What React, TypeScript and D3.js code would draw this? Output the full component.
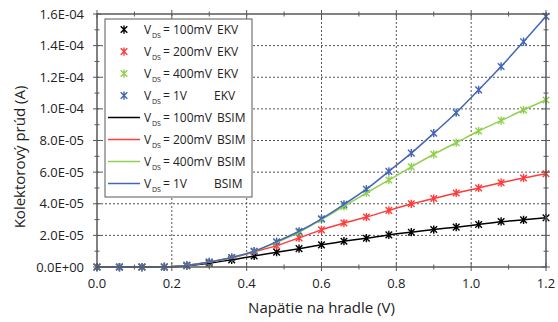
import React from 'react'
import * as d3 from 'd3'

// napätie na hradle (V)
const gateV = [0, 0.06, 0.12, 0.18, 0.24, 0.3, 0.36, 0.42, 0.48, 0.54, 0.6, 0.66, 0.72, 0.78, 0.84, 0.9, 0.96, 1.02, 1.08, 1.14, 1.2]

// kolektorový prúd v uA
const ekv100 = [0, 0, 0, 0.05, 0.8, 2.4, 4.5, 7.0, 9.4, 11.6, 14.0, 16.3, 18.2, 20.3, 22.0, 23.7, 25.2, 26.9, 28.8, 29.8, 31.1]
const ekv200 = [0, 0, 0, 0.05, 1.0, 3.0, 5.8, 9.6, 13.5, 18.4, 23.5, 27.8, 31.6, 35.8, 40.0, 43.3, 46.8, 50.0, 53.3, 56.3, 59.0]
const ekv400 = [0, 0, 0, 0.05, 1.0, 3.2, 6.0, 10.0, 15.6, 22.0, 30.0, 38.3, 46.8, 55.0, 63.3, 71.3, 78.6, 86.0, 92.6, 99.3, 105.6]
const ekv1V = [0, 0, 0, 0.05, 1.0, 3.2, 6.0, 10.0, 16.0, 22.6, 30.5, 39.6, 49.2, 60.5, 72.0, 84.6, 97.6, 112.0, 126.8, 142.5, 158.5]

const bsim100 = [0, 0, 0, 0.05, 0.8, 2.4, 4.5, 7.0, 9.4, 11.6, 14.0, 16.3, 18.2, 20.3, 22.0, 23.7, 25.2, 26.9, 28.6, 29.9, 31.1]
const bsim200 = [0, 0, 0, 0.05, 1.0, 3.0, 5.8, 9.6, 13.5, 18.4, 23.5, 27.8, 31.6, 35.8, 39.8, 43.3, 46.8, 50.0, 53.3, 56.3, 59.0]
const bsim400 = [0, 0, 0, 0.05, 1.0, 3.2, 6.0, 10.0, 15.6, 22.0, 30.0, 38.3, 46.8, 55.0, 63.3, 71.3, 78.6, 86.0, 92.6, 99.3, 105.6]
const bsim1V = [0, 0, 0, 0.05, 1.0, 3.2, 6.0, 10.0, 16.0, 22.6, 30.5, 39.6, 49.2, 60.5, 72.0, 84.6, 97.6, 112.0, 126.8, 142.5, 158.5]

const xTicks = [0, 0.2, 0.4, 0.6, 0.8, 1.0, 1.2]
const yTicks = [0, 2e-5, 4e-5, 6e-5, 8e-5, 1e-4, 1.2e-4, 1.4e-4, 1.6e-4]

const vdsLabels = ['100mV', '200mV', '400mV', '1V']
const colors = ['#000000', '#ff3b3b', '#92d050', '#4366b8']

const W = 558
const H = 322
const m = { left: 97, right: 546, top: 14, bottom: 267 }
const font = "'Open Sans', sans-serif"

const sci = (v: number) => {
  const [mant, e] = v.toExponential(1).split('e')
  return `${mant}E${e[0]}${e.slice(1).padStart(2, '0')}`
}

const star = (r: number) =>
  `M${-r},${-r}L${r},${r}M${-r},${r}L${r},${-r}M0,${-r * 1.25}L0,${r * 1.25}`

export default function App() {
  const x = d3.scaleLinear().domain([0, 1.2]).range([m.left, m.right])
  const y = d3.scaleLinear().domain([0, 1.6e-4]).range([m.bottom, m.top])

  const ekv = [ekv100, ekv200, ekv400, ekv1V]
  const bsim = [bsim100, bsim200, bsim400, bsim1V]

  const line = d3
    .line<number>()
    .x((_, i) => x(gateV[i]))
    .y((d) => y(d * 1e-6))
    .curve(d3.curveMonotoneX)

  const xMinor = d3.range(0, 13).map((i) => i * 0.1)
  const yMinor = d3.range(0, 17).map((i) => i * 1e-5)
  const axisColor = '#595959'

  const rowY = (i: number) => 29.5 + i * 22

  return (
    <svg width={W} height={H} style={{ position: 'absolute', left: 0, top: 0, background: '#fff' }} fontFamily={font}>
      {/* mriežka */}
      {xTicks.slice(1, -1).map((t) => (
        <line key={'gx' + t} x1={x(t)} x2={x(t)} y1={m.top} y2={m.bottom} stroke="#555" strokeDasharray="2,2" strokeWidth={1} />
      ))}
      {yTicks.slice(1, -1).map((t) => (
        <line key={'gy' + t} x1={m.left} x2={m.right} y1={y(t)} y2={y(t)} stroke="#555" strokeDasharray="2,2" strokeWidth={1} />
      ))}

      {/* znacky EKV */}
      {ekv.map((s, k) =>
        s.map((v, i) => (
          <path key={`m${k}-${i}`} d={star(3.3)} transform={`translate(${x(gateV[i])},${y(v * 1e-6)})`} stroke={colors[k]} strokeWidth={1.4} fill="none" />
        ))
      )}

      {/* krivky BSIM */}
      {bsim.map((s, k) => (
        <path key={'l' + k} d={line(s) || ''} stroke={colors[k]} strokeWidth={1.5} fill="none" />
      ))}

      {/* ram a ticky */}
      <rect x={m.left} y={m.top} width={m.right - m.left} height={m.bottom - m.top} fill="none" stroke={axisColor} strokeWidth={1.5} />
      {xMinor.map((t, i) => {
        const len = i % 2 === 0 ? 4 : 2.5
        return (
          <g key={'tx' + i} stroke={axisColor} strokeWidth={1}>
            <line x1={x(t)} x2={x(t)} y1={m.bottom - len} y2={m.bottom + len} />
            <line x1={x(t)} x2={x(t)} y1={m.top - len} y2={m.top + len} />
          </g>
        )
      })}
      {yMinor.map((t, i) => {
        const len = i % 2 === 0 ? 4 : 2.5
        return (
          <g key={'ty' + i} stroke={axisColor} strokeWidth={1}>
            <line x1={m.left - len} x2={m.left + len} y1={y(t)} y2={y(t)} />
            <line x1={m.right - len} x2={m.right + len} y1={y(t)} y2={y(t)} />
          </g>
        )
      })}

      {xTicks.map((t) => (
        <text key={'lx' + t} x={x(t)} y={288} textAnchor="middle" fontSize={13} fill="#222">
          {d3.format('.1f')(t)}
        </text>
      ))}
      {yTicks.map((t) => (
        <text key={'ly' + t} x={84} y={y(t) + 4.5} textAnchor="end" fontSize={13} fill="#222">
          {sci(t)}
        </text>
      ))}

      <text x={(m.left + m.right) / 2} y={313} textAnchor="middle" fontSize={15} fill="#222">
        Napätie na hradle (V)
      </text>
      <text transform={`translate(25,157) rotate(-90)`} textAnchor="middle" fontSize={15} fill="#222">
        Kolektorový prúd (A)
      </text>

      {/* legenda */}
      <rect x={105} y={19} width={147} height={178} fill="#fff" stroke={axisColor} strokeWidth={1} />
      {[0, 1].map((grp) =>
        vdsLabels.map((lab, k) => {
          const cy = rowY(grp * 4 + k)
          const tag = grp === 0 ? 'EKV' : 'BSIM'
          return (
            <g key={`lg${grp}-${k}`}>
              {grp === 0 ? (
                <path d={star(3.3)} transform={`translate(124,${cy})`} stroke={colors[k]} strokeWidth={1.4} fill="none" />
              ) : (
                <line x1={108} x2={140} y1={cy} y2={cy} stroke={colors[k]} strokeWidth={1.5} />
              )}
              <text x={144} y={cy + 4.5} fontSize={12} fill="#222">V</text>
              <text x={152} y={cy + 8} fontSize={7} fill="#222">DS</text>
              <text x={163} y={cy + 4.5} fontSize={12} fill="#222">= {lab}</text>
              <text x={k === 3 ? 214 : 217} y={cy + 4.5} fontSize={12} fill="#222">{tag}</text>
            </g>
          )
        })
      )}
    </svg>
  )
}
